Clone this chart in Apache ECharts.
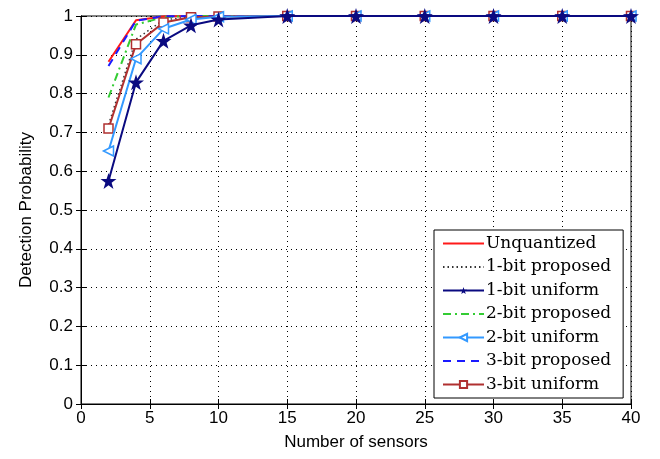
<!DOCTYPE html>
<html>
<head>
<meta charset="utf-8">
<script src="https://cdn.jsdelivr.net/npm/echarts@6/dist/echarts.min.js"></script>
<style>
  html, body { margin: 0; padding: 0; background: #fff; }
  #main { width: 660px; height: 459px; }
</style>
</head>
<body>
<div id="main"></div>
<script>
// number of sensors (x values)
var sensors = [2, 4, 6, 8, 10, 15, 20, 25, 30, 35, 40];

// detection probability per curve
var unquantized    = [0.882, 0.989, 0.999, 1, 1, 1, 1, 1, 1, 1, 1];
var bit1Proposed   = [0.72, 0.94, 0.99, 0.998, 1, 1, 1, 1, 1, 1, 1];
var bit1Uniform    = [0.575, 0.829, 0.936, 0.976, 0.991, 1, 1, 1, 1, 1, 1];
var bit2Proposed   = [0.79, 0.978, 0.997, 1, 1, 1, 1, 1, 1, 1, 1];
var bit2Uniform    = [0.652, 0.890, 0.967, 0.991, 0.998, 1, 1, 1, 1, 1, 1];
var bit3Proposed   = [0.871, 0.988, 0.999, 1, 1, 1, 1, 1, 1, 1, 1];
var bit3Uniform    = [0.710, 0.927, 0.983, 0.997, 0.999, 1, 1, 1, 1, 1, 1];

var names = ['Unquantized', '1-bit proposed', '1-bit uniform', '2-bit proposed',
             '2-bit uniform', '3-bit proposed', '3-bit uniform'];
// curves drawn without markers
var plain = ['Unquantized', '1-bit proposed', '2-bit proposed', '3-bit proposed'];

function pairs(ys) {
  var out = [];
  for (var i = 0; i < sensors.length; i++) out.push([sensors[i], ys[i]]);
  return out;
}

var star = 'path://M50,0 L62,36 L100,36.5 L69.5,59 L81,95 L50,73.5 L19,95 L30.5,59 L0,36.5 L38,36 Z';

var myChart = echarts.init(document.getElementById('main'));

var axisFont = { fontFamily: 'Liberation Sans', fontSize: 17, color: '#000' };

var legendData = names.map(function (n) {
  if (plain.indexOf(n) >= 0) return { name: n, itemStyle: { opacity: 0 } };
  return { name: n };
});

option = {
  backgroundColor: '#fff',
  animation: false,
  grid: {
    left: 81, right: 29, top: 16, bottom: 55,
    show: true, borderColor: '#000', borderWidth: 1
  },
  legend: {
    data: legendData,
    orient: 'vertical',
    left: 434, top: 230,
    backgroundColor: '#fff',
    borderColor: '#000',
    borderWidth: 1,
    borderRadius: 0,
    padding: [5, 12, 5, 8],
    itemWidth: 41,
    itemHeight: 9,
    itemGap: 6.5,
    textStyle: { fontFamily: 'DejaVu Serif', fontSize: 17, color: '#000', padding: [0, 0, 0, -3] }
  },
  xAxis: [{
    type: 'value', min: 0, max: 40, interval: 5,
    name: 'Number of sensors', nameLocation: 'middle', nameGap: 30,
    nameTextStyle: axisFont,
    axisLine: { lineStyle: { color: '#000' } },
    axisTick: { inside: true, length: 5, lineStyle: { color: '#000' } },
    axisLabel: { fontFamily: 'Liberation Sans', fontSize: 17, color: '#000', margin: 6 },
    splitLine: { show: true, lineStyle: { color: '#000', type: [1, 4], width: 1 } }
  }, {
    type: 'value', min: 0, max: 40, interval: 5, position: 'top',
    axisLine: { lineStyle: { color: '#000' } },
    axisTick: { inside: true, length: 5, lineStyle: { color: '#000' } },
    axisLabel: { show: false }, splitLine: { show: false }
  }],
  yAxis: [{
    type: 'value', min: 0, max: 1, interval: 0.1,
    name: 'Detection Probability', nameLocation: 'middle', nameGap: 46,
    nameTextStyle: axisFont,
    axisLine: { lineStyle: { color: '#000' } },
    axisTick: { inside: true, length: 5, lineStyle: { color: '#000' } },
    axisLabel: {
      fontFamily: 'Liberation Sans', fontSize: 17, color: '#000', margin: 8,
      formatter: function (v) { return String(Math.round(v * 10) / 10); }
    },
    splitLine: { show: true, lineStyle: { color: '#000', type: [1, 4], width: 1 } }
  }, {
    type: 'value', min: 0, max: 1, interval: 0.1, position: 'right',
    axisLine: { show: true, lineStyle: { color: '#000' } },
    axisTick: { show: true, inside: true, length: 5, lineStyle: { color: '#000' } },
    axisLabel: { show: false }, splitLine: { show: false }
  }],
  series: [
    {
      name: names[0], type: 'line', data: pairs(unquantized), z: 3,
      symbol: 'none', color: '#ff1a1a',
      lineStyle: { color: '#ff1a1a', width: 2 }
    },
    {
      name: names[1], type: 'line', data: pairs(bit1Proposed), z: 3,
      symbol: 'none', color: '#333',
      lineStyle: { color: '#333', width: 1.5, type: [1.5, 3] }
    },
    {
      name: names[3], type: 'line', data: pairs(bit2Proposed), z: 3,
      symbol: 'none', color: '#33cc33',
      lineStyle: { color: '#33cc33', width: 2, type: [8, 4, 2, 4] }
    },
    {
      name: names[5], type: 'line', data: pairs(bit3Proposed), z: 4,
      symbol: 'none', color: '#1a1aff',
      lineStyle: { color: '#1a1aff', width: 2, type: [8, 6] }
    },
    {
      name: names[6], type: 'line', data: pairs(bit3Uniform), z: 5,
      symbol: 'rect', symbolSize: 9, color: '#b03030',
      itemStyle: { color: '#fff', borderColor: '#b03030', borderWidth: 1.5 },
      lineStyle: { color: '#b03030', width: 2 }
    },
    {
      name: names[4], type: 'line', data: pairs(bit2Uniform), z: 6,
      symbol: 'triangle', symbolRotate: 90, symbolSize: 10, color: '#3399ff',
      itemStyle: { color: '#fff', borderColor: '#3399ff', borderWidth: 1.5 },
      lineStyle: { color: '#3399ff', width: 2 }
    },
    {
      name: names[2], type: 'line', data: pairs(bit1Uniform), z: 7,
      symbol: star, symbolSize: 16, color: '#0a0a80',
      itemStyle: { color: '#0a0a80' },
      lineStyle: { color: '#0a0a80', width: 2 }
    }
  ]
};

myChart.setOption(option);
</script>
</body>
</html>
